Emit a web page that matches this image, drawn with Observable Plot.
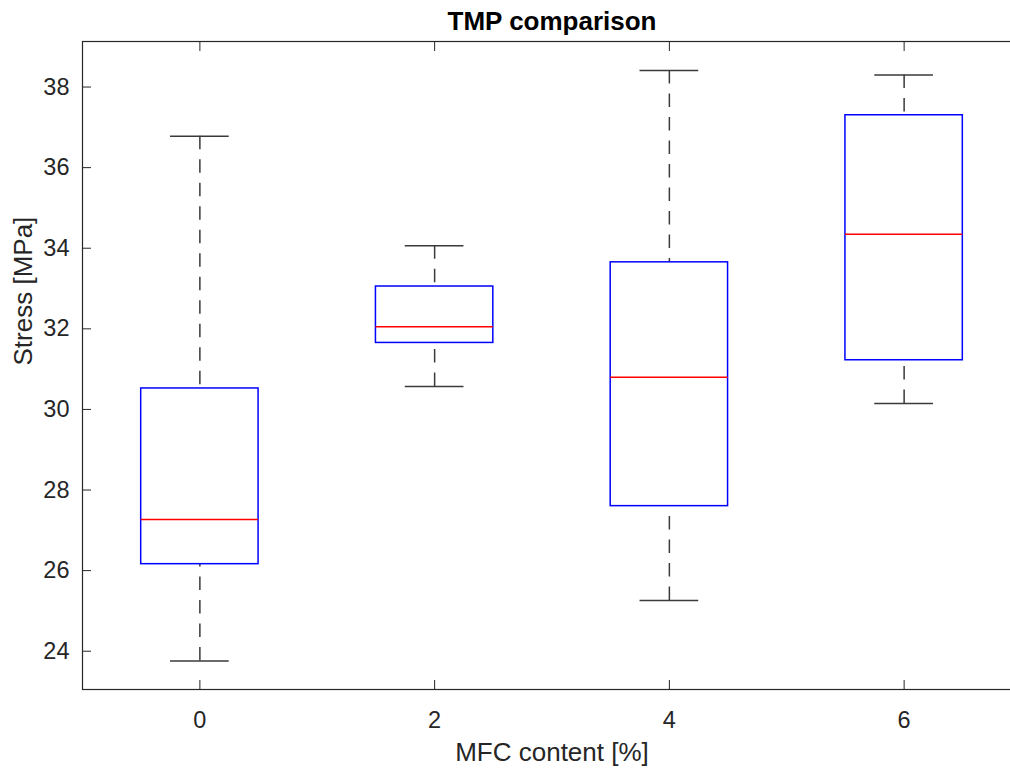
<!DOCTYPE html>
<html><head><meta charset="utf-8">
<script src="https://cdn.jsdelivr.net/npm/d3@7"></script>
<script src="https://cdn.jsdelivr.net/npm/@observablehq/plot@0.6"></script>
<style>html,body{margin:0;padding:0;background:#fff;overflow:hidden}svg{overflow:hidden}</style>
</head><body><div id="chart"></div>
<script>
const categories = ["0", "2", "4", "6"];
const whiskerLow = [23.76, 30.57, 25.26, 30.15];
const q1 = [26.16, 31.65, 27.60, 31.22];
const median = [27.27, 32.05, 30.80, 34.35];
const q3 = [30.52, 33.05, 33.65, 37.30];
const whiskerHigh = [36.78, 34.06, 38.41, 38.30];
const yTicks = [24, 26, 28, 30, 32, 34, 36, 38];
const titleText = "TMP comparison";
const xLabel = "MFC content [%]";
const yLabel = "Stress [MPa]";

const data = categories.map((c, i) => ({
  pos: i + 1, cat: c, low: whiskerLow[i], q1: q1[i], med: median[i], q3: q3[i], high: whiskerHigh[i]
}));
const positions = data.map(d => d.pos);

const ink = "#262626";
const whisk = "#3a3a3a";
const dash = "13.5,10";

const chart = Plot.plot({
  width: 1010,
  height: 771,
  marginLeft: 82,
  marginRight: -11,
  marginTop: 41,
  marginBottom: 82,
  style: {fontFamily: "'Liberation Sans', Arial, Helvetica, sans-serif", fontSize: "23.5px", color: ink, background: "#fff", overflow: "hidden"},
  x: {type: "linear", domain: [0.5, 4.5], label: null},
  y: {domain: [23.05, 39.13], label: null},
  marks: [
    Plot.axisY(yTicks, {anchor: "left", tickSize: -9, tickPadding: 22, label: null, stroke: ink, fill: ink}),
    Plot.axisX(positions, {anchor: "bottom", tickSize: -9, tickPadding: 31, tickFormat: d => categories[d - 1], label: null, stroke: ink, fill: ink}),
    Plot.axisX(positions, {anchor: "top", tickSize: -9, tickFormat: () => "", label: null, stroke: ink}),
    // whiskers
    Plot.ruleX(data, {x: "pos", y1: "high", y2: "q3", stroke: whisk, strokeWidth: 1.5, strokeDasharray: dash}),
    Plot.ruleX(data, {x: "pos", y1: "low", y2: "q1", stroke: whisk, strokeWidth: 1.5, strokeDasharray: dash}),
    // caps
    Plot.ruleY(data, {y: "high", x1: d => d.pos - 0.125, x2: d => d.pos + 0.125, stroke: whisk, strokeWidth: 1.5}),
    Plot.ruleY(data, {y: "low", x1: d => d.pos - 0.125, x2: d => d.pos + 0.125, stroke: whisk, strokeWidth: 1.5}),
    // boxes
    Plot.rect(data, {x1: d => d.pos - 0.25, x2: d => d.pos + 0.25, y1: "q1", y2: "q3", fill: "none", stroke: "#0000ff", strokeWidth: 1.5}),
    // medians
    Plot.ruleY(data, {y: "med", x1: d => d.pos - 0.25, x2: d => d.pos + 0.25, stroke: "#ff0000", strokeWidth: 1.5}),
    Plot.frame({stroke: ink, strokeWidth: 1.2}),
    Plot.text([titleText], {frameAnchor: "top", dy: -20, lineAnchor: "middle", fontWeight: "bold", fontSize: 26, fill: "#000"}),
    Plot.text([xLabel], {frameAnchor: "bottom", dy: 63, lineAnchor: "middle", fontSize: 26, fill: ink}),
    Plot.text([yLabel], {frameAnchor: "left", dx: -59, rotate: -90, lineAnchor: "middle", fontSize: 26, fill: ink})
  ]
});
document.getElementById("chart").appendChild(chart);
</script>
</body></html>
